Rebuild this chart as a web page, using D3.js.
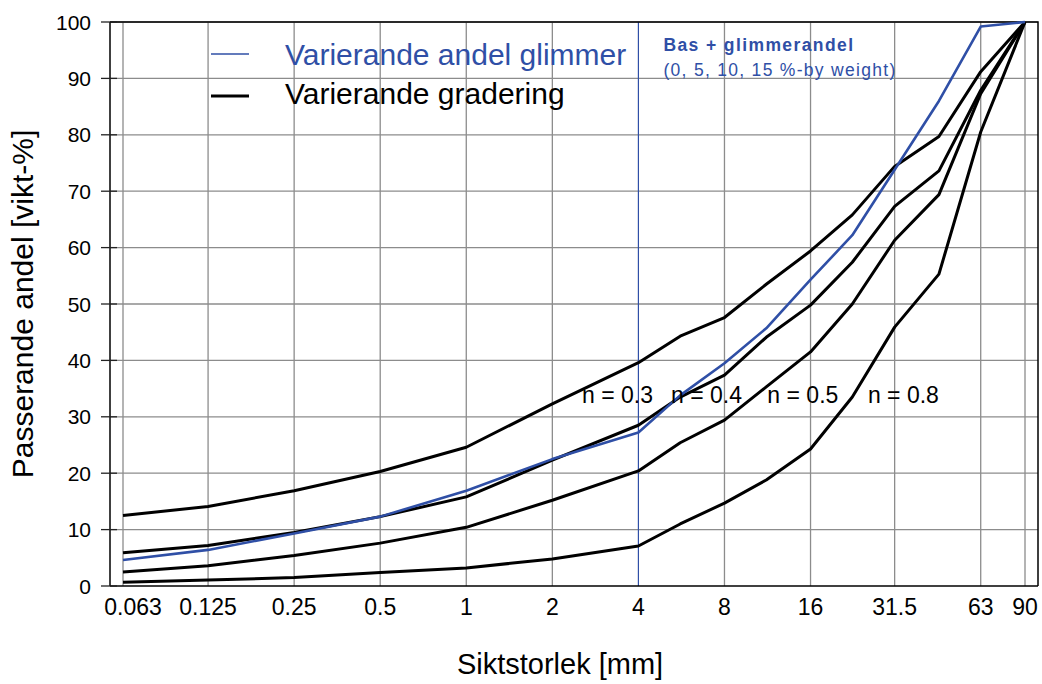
<!DOCTYPE html>
<html>
<head>
<meta charset="utf-8">
<script src="https://cdn.jsdelivr.net/npm/d3@7"></script>
<style>
  body { margin: 0; background: #fff; }
  svg { font-family: "Liberation Sans", Arial, sans-serif; }
  .grid line { stroke: #8c8c8c; stroke-width: 1.3; }
</style>
</head>
<body>
<div id="chart"></div>
<script>
const sieves = [0.063, 0.125, 0.25, 0.5, 1, 2, 4, 5.6, 8, 11.2, 16, 22.4, 31.5, 45, 63, 90];
const tickSieves = [0.063, 0.125, 0.25, 0.5, 1, 2, 4, 8, 16, 31.5, 63, 90];
const yTicks = [0, 10, 20, 30, 40, 50, 60, 70, 80, 90, 100];

const glimmer = [4.6, 6.4, 9.3, 12.3, 16.9, 22.5, 27.2, 33.8, 39.5, 45.7, 54.3, 62.2, 73.8, 86.0, 99.2, 100];
const n03 = [12.5, 14.1, 16.9, 20.3, 24.6, 32.3, 39.6, 44.3, 47.6, 53.5, 59.4, 65.8, 74.4, 79.7, 91.2, 100];
const n04 = [5.9, 7.2, 9.5, 12.3, 15.8, 22.3, 28.5, 33.5, 37.4, 44.1, 49.8, 57.4, 67.3, 73.6, 87.9, 100];
const n05 = [2.5, 3.6, 5.4, 7.6, 10.4, 15.2, 20.4, 25.4, 29.4, 35.3, 41.5, 50.0, 61.3, 69.4, 87.3, 100];
const n08 = [0.65, 1.06, 1.5, 2.4, 3.2, 4.8, 7.1, 11.0, 14.7, 18.8, 24.3, 33.5, 45.9, 55.3, 80.5, 100];

const nLabels = ["n = 0.3", "n = 0.4", "n = 0.5", "n = 0.8"];
const nLabelX = [2.54, 5.2, 11.3, 25.4];
const nLabelY = 32.4;

const blue = "#2f4fa6";
const width = 1042, height = 684;
const margin = { top: 22, right: 4, bottom: 98, left: 110 };
const w = width - margin.left - margin.right;
const h = height - margin.top - margin.bottom;

const svg = d3.select("#chart").append("svg")
    .attr("width", width)
    .attr("height", height);

const g = svg.append("g")
    .attr("transform", `translate(${margin.left},${margin.top})`);

const x = d3.scaleLog().domain([0.063, 90]).range([13, w - 13]);
const y = d3.scaleLinear().domain([0, 100]).range([h, 0]);

// grid
g.append("g").attr("class", "grid").selectAll("line").data(yTicks.slice(1)).enter().append("line")
    .attr("x1", 0).attr("x2", w)
    .attr("y1", d => y(d)).attr("y2", d => y(d));

g.append("g").attr("class", "grid").selectAll("line").data(tickSieves.filter(d => d != 4)).enter().append("line")
    .attr("x1", d => x(d)).attr("x2", d => x(d))
    .attr("y1", 0).attr("y2", h);

// blue marker at 4 mm
g.append("line")
    .attr("x1", x(4)).attr("x2", x(4))
    .attr("y1", 0).attr("y2", h)
    .attr("stroke", blue).attr("stroke-width", 1.2);

// frame
g.append("path")
    .attr("d", `M0,0H${w}V${h}`)
    .attr("fill", "none").attr("stroke", "#000").attr("stroke-width", 1.5);
g.append("line").attr("x1", 0).attr("x2", w).attr("y1", h).attr("y2", h)
    .attr("stroke", "#000").attr("stroke-width", 1.5);
g.append("line").attr("x1", 0).attr("x2", 0).attr("y1", 0).attr("y2", h)
    .attr("stroke", "#000").attr("stroke-width", 1.5);

// y ticks + labels
g.selectAll(".ytick").data(yTicks).enter().append("line")
    .attr("x1", -9).attr("x2", 7)
    .attr("y1", d => y(d)).attr("y2", d => y(d))
    .attr("stroke", "#222").attr("stroke-width", 1.3);

g.selectAll(".ylab").data(yTicks).enter().append("text")
    .text(d => d)
    .attr("x", -19)
    .attr("y", d => y(d))
    .attr("dy", "0.36em")
    .attr("text-anchor", "end")
    .style("font-size", "21px");

// x labels
g.selectAll(".xlab").data(tickSieves).enter().append("text")
    .text(d => d)
    .attr("x", (d, i) => x(d) + (i == 0 ? 10 : 0))
    .attr("y", h + 29)
    .attr("text-anchor", "middle")
    .style("font-size", "23px");

// axis titles
svg.append("text")
    .text("Siktstorlek [mm]")
    .attr("x", 560).attr("y", 674)
    .attr("text-anchor", "middle")
    .style("font-size", "29px");

svg.append("text")
    .text("Passerande andel [vikt-%]")
    .attr("transform", "translate(33,304) rotate(-90)")
    .attr("text-anchor", "middle")
    .style("font-size", "30px");

// curves
const line = d3.line()
    .x((d, i) => x(sieves[i]))
    .y(d => y(d));

[n03, n04, n05, n08].forEach(s => {
    g.append("path").datum(s)
        .attr("d", line)
        .attr("fill", "none")
        .attr("stroke", "#000")
        .attr("stroke-width", 3)
        .attr("stroke-linejoin", "round");
});

g.append("path").datum(glimmer)
    .attr("d", line)
    .attr("fill", "none")
    .attr("stroke", blue)
    .attr("stroke-width", 2.6)
    .attr("stroke-linejoin", "round");

// n labels
g.selectAll(".nlab").data(nLabels).enter().append("text")
    .text(d => d)
    .attr("x", (d, i) => x(nLabelX[i]))
    .attr("y", y(nLabelY))
    .style("font-size", "23px");

// legend
const legend = svg.append("g");
legend.append("line")
    .attr("x1", 211).attr("x2", 249).attr("y1", 54).attr("y2", 54)
    .attr("stroke", blue).attr("stroke-width", 1.6);
legend.append("text").text("Varierande andel glimmer")
    .attr("x", 285).attr("y", 65)
    .attr("fill", blue)
    .style("font-size", "30px");
legend.append("line")
    .attr("x1", 211).attr("x2", 249).attr("y1", 96).attr("y2", 96)
    .attr("stroke", "#000").attr("stroke-width", 3);
legend.append("text").text("Varierande gradering")
    .attr("x", 285).attr("y", 104)
    .style("font-size", "30px");

// blue annotation
g.append("text").text("Bas + glimmerandel")
    .attr("x", x(4) + 25).attr("y", 29)
    .attr("fill", blue)
    .style("font-size", "17.5px")
    .style("font-weight", "bold")
    .style("letter-spacing", "1.4px");
g.append("text").text("(0, 5, 10, 15 %-by weight)")
    .attr("x", x(4) + 25).attr("y", 54)
    .attr("fill", blue)
    .style("font-size", "17.5px")
    .style("letter-spacing", "1.3px");
</script>
</body>
</html>
